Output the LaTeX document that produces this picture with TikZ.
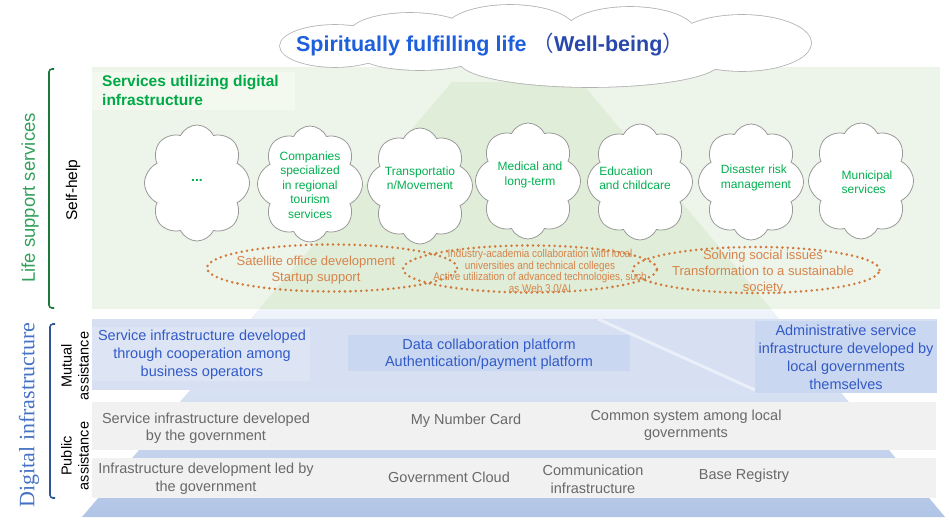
\documentclass[tikz,border=0pt]{standalone}
\usepackage{fontspec}
\setmainfont{Liberation Sans}
\newfontfamily\timesfont{Liberation Serif}
\newfontfamily\cjkfont{Noto Sans CJK JP}
\newfontfamily\narrowfont[FakeStretch=0.88]{Liberation Sans}
\usepackage{tikz}
\usetikzlibrary{shapes.symbols,shapes.geometric}

\definecolor{lifegreen}{RGB}{237,244,233}
\definecolor{pyrgreen}{RGB}{224,237,216}
\definecolor{labelgreen}{RGB}{243,249,239}
\definecolor{svcgreen}{RGB}{0,176,80}
\definecolor{headgreen}{RGB}{0,168,70}
\definecolor{sidegreen}{RGB}{50,160,90}
\definecolor{bracegreen}{RGB}{30,120,60}
\definecolor{pyrtop}{RGB}{240,244,251}
\definecolor{pyrbottom}{RGB}{176,196,230}
\definecolor{mutualblue}{RGB}{214,224,242}
\definecolor{stripeblue}{RGB}{234,239,249}
\definecolor{coopblue}{RGB}{221,229,245}
\definecolor{boxblue}{RGB}{202,215,240}
\definecolor{textblue}{RGB}{50,90,200}
\definecolor{titleblue}{RGB}{30,95,220}
\definecolor{wellblue}{RGB}{40,72,172}
\definecolor{sideblue}{RGB}{68,114,196}
\definecolor{braceblue}{RGB}{47,85,151}
\definecolor{publicgray}{RGB}{241,241,241}
\definecolor{textgray}{RGB}{105,105,105}
\definecolor{dotorange}{RGB}{210,122,60}
\definecolor{txtorange}{RGB}{214,132,75}

\begin{document}
\begin{tikzpicture}[x=1pt,y=-1pt,
    puff/.style={cloud, cloud puffs=8, cloud puff arc=130, aspect=0.9,
      draw=black!40, line width=0.8pt, fill=white,
      minimum width=105pt, minimum height=116pt, inner sep=0pt},
    svc/.style={text=svcgreen, font=\fontsize{12}{14.5}\selectfont, align=center},
    goal/.style={ellipse, draw=dotorange, line width=2.8pt,
      dash pattern=on 0pt off 5.4pt, line cap=round, inner sep=0pt},
    goaltext/.style={text=txtorange, font=\fontsize{13}{16}\selectfont, align=center},
    infra/.style={font=\fontsize{14.5}{18}\selectfont, align=center},
    side/.style={rotate=90, align=center, font=\fontsize{14.5}{17}\selectfont}]
  \useasboundingbox (0,0) rectangle (949,519);

  % life support area and the pyramid behind everything
  \fill[lifegreen] (92,67) rectangle (940,309);
  \fill[pyrgreen] (452,82) -- (581,82) -- (771,309) -- (259,309) -- cycle;
  \shade[top color=pyrtop, bottom color=pyrbottom]
    (259,309) -- (771,309) -- (945,517) -- (82,517) -- cycle;
  \fill[labelgreen] (92,72) rectangle (295,110);

  % mutual assistance band
  \fill[mutualblue] (92,319) rectangle (937,390);
  \draw[line width=3pt, stripeblue] (598,319) -- (755,390);
  \fill[coopblue] (92,327) rectangle (310,381);
  \fill[boxblue] (348,335) rectangle (630,371);
  \fill[boxblue] (755,321) rectangle (937,393);

  % public assistance bands
  \fill[publicgray] (92,402) rectangle (936,450);
  \fill[publicgray] (92,458) rectangle (936,498);

  % brackets on the left
  \draw[bracegreen, line width=1.6pt, rounded corners=3pt] (54,69) -- (49,69) -- (49,308) -- (54,308);
  \draw[braceblue, line width=1.6pt, rounded corners=3pt] (55,324) -- (50,324) -- (50,498) -- (55,498);
  \node[rotate=90, text=sidegreen, font=\fontsize{18.5}{20}\selectfont] (lifesup) at (30,198) {Life support services};
  \node[rotate=90, text=sideblue, font=\timesfont\fontsize{22}{24}\selectfont] (digital) at (29,415) {Digital infrastructure};
  \node[side, font=\fontsize{15.5}{17}\selectfont] (selfhelp) at (73,190) {Self-help};
  \node[side] (mutual) at (75,366) {Mutual\\assistance};
  \node[side] (public) at (75,456) {Public\\assistance};

  % heading of the green area
  \node[anchor=north west, inner sep=0pt, align=left, text=headgreen,
    font=\bfseries\fontsize{15.5}{19}\selectfont] (svchead) at (102,75)
    {Services utilizing digital\\infrastructure};

  % service clouds
  \node[puff] (c1) at (197,183) {};
  \node[puff] (c2) at (310,184) {};
  \node[puff] (c3) at (420,186) {};
  \node[puff] (c4) at (528,181) {};
  \node[puff] (c5) at (640,182) {};
  \node[puff] (c6) at (751,182) {};
  \node[puff] (c7) at (861,181) {};
  \node[svc, font=\bfseries\fontsize{14}{14}\selectfont] (t1) at (197,180) {...};
  \node[svc] (t2) at (310,185) {Companies\\specialized\\in regional\\tourism\\services};
  \node[svc] (t3) at (420,178) {Transportatio\\n/Movement};
  \node[svc] (t4) at (530,175) {Medical and\\long-term};
  \node[svc, align=left] (t5) at (635,178) {Education\\and childcare};
  \node[svc, align=left] (t6) at (756,178) {Disaster risk\\management};
  \node[svc, align=left] (t7) at (867,182) {Municipal\\services};

  % dotted goals
  \node[goal, minimum width=250pt, minimum height=47pt] (e1) at (332,268) {};
  \node[goal, minimum width=254pt, minimum height=47pt] (e2) at (530,269) {};
  \node[goal, minimum width=247pt, minimum height=46pt] (e3) at (756,270) {};
  \node[goaltext] (g1) at (316,270) {Satellite office development\\Startup support};
  \node[goaltext, font=\narrowfont\fontsize{11.3}{10.5}\selectfont] (g2) at (540,271)
    {Industry-academia collaboration with local\\universities and technical colleges\\Active utilization of advanced technologies, such\\as Web 3.0/AI};
  \node[goaltext] (g3) at (763,272) {Solving social issues\\Transformation to a sustainable\\society};

  % texts of the infrastructure layers
  \node[infra, text=textblue] (coop) at (202,355) {Service infrastructure developed\\through cooperation among\\business operators};
  \node[infra, text=textblue, font=\fontsize{14.5}{17}\selectfont] (data) at (489,354) {Data collaboration platform\\Authentication/payment platform};
  \node[infra, text=textblue] (admin) at (846,357) {Administrative service\\infrastructure developed by\\local governments\\themselves};
  \node[infra, text=textgray, font=\fontsize{14.5}{17}\selectfont] (govsvc) at (206,428) {Service infrastructure developed\\by the government};
  \node[infra, text=textgray] (mynum) at (466,421) {My Number Card};
  \node[infra, text=textgray, font=\fontsize{14.5}{17}\selectfont] (common) at (686,425) {Common system among local\\governments};
  \node[infra, text=textgray] (govdev) at (206,479) {Infrastructure development led by\\the government};
  \node[infra, text=textgray] (gcloud) at (449,477) {Government Cloud};
  \node[infra, text=textgray] (comm) at (593,479) {Communication\\infrastructure};
  \node[infra, text=textgray] (basereg) at (744,476) {Base Registry};

  % well-being cloud on top: outline first, then white fill over the inner edges
  \foreach \cx/\cy/\rx/\ry in {335/46/55/21, 410/33/60/20, 510/30/65/25, 630/32/65/25,
      742/43/69/28, 590/62/130/25, 420/55/60/15}
    \draw[black!30, line width=1.6pt] (\cx,\cy) ellipse [x radius=\rx pt, y radius=\ry pt];
  \foreach \cx/\cy/\rx/\ry in {335/46/55/21, 410/33/60/20, 510/30/65/25, 630/32/65/25,
      742/43/69/28, 590/62/130/25, 420/55/60/15}
    \fill[white] (\cx,\cy) ellipse [x radius=\rx pt, y radius=\ry pt];
  \node[font=\bfseries\fontsize{21.5}{24}\selectfont] (wellbeing) at (490,45)
    {\textcolor{titleblue}{Spiritually fulfilling life} \textcolor{wellblue}{{\mdseries\cjkfont （}Well-being{\mdseries\cjkfont ）}}};
\end{tikzpicture}
\end{document}
